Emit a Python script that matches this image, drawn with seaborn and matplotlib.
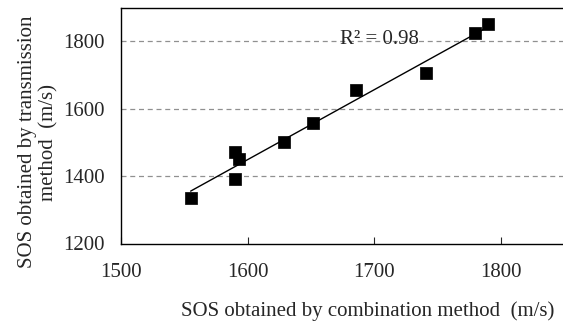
import numpy as np
import pandas as pd
import matplotlib
matplotlib.use("Agg")
import matplotlib.pyplot as plt
import seaborn as sns

# values
combination_sos = [1555, 1590, 1593, 1590, 1629, 1652, 1686, 1741, 1780, 1790]
transmission_sos = [1335, 1470, 1452, 1392, 1502, 1556, 1655, 1705, 1825, 1851]
r2_label = "R² = 0.98"

df = pd.DataFrame({"comb": combination_sos, "trans": transmission_sos})

sns.set_style("white")
plt.rcParams["font.family"] = ["Liberation Serif", "DejaVu Serif"]
plt.rcParams["font.size"] = 15

fig = plt.figure(figsize=(5.63, 3.28), dpi=100)
ax = fig.add_axes([121 / 563, 1 - 243.5 / 328, 443 / 563, 236 / 328])

# trend line
coef = np.polyfit(df["comb"], df["trans"], 1)
xs = np.array([df["comb"].min(), df["comb"].max()])
ax.plot(xs, np.polyval(coef, xs), color="black", lw=1, zorder=2)

sns.scatterplot(data=df, x="comb", y="trans", marker="s", s=80, color="black",
                edgecolor="black", linewidth=0.5, ax=ax, zorder=3)

ax.set_xlim(1500, 1850)
ax.set_ylim(1200, 1900)
ax.set_xticks([1500, 1600, 1700, 1800])
ax.set_yticks([1200, 1400, 1600, 1800])
for yv in [1400, 1600, 1800]:
    ax.axhline(yv, color="#909090", lw=0.9, ls=(0, (4, 3)), zorder=1)

ax.tick_params(axis="x", direction="in", length=5, width=0.8, pad=14, bottom=True)
ax.tick_params(axis="y", length=0, pad=12)
for side in ["left", "bottom", "top"]:
    ax.spines[side].set_color("black")
    ax.spines[side].set_linewidth(1.0)
ax.spines["right"].set_visible(False)

ax.set_xlabel("SOS obtained by combination method  (m/s)", fontsize=15)
ax.xaxis.set_label_coords(0.557, -0.245)
ax.set_ylabel("SOS obtained by transmission\nmethod  (m/s)", fontsize=15,
              linespacing=1.2)
ax.yaxis.set_label_coords(-0.14, 0.43)

ax.text(1704, 1805, r2_label, fontsize=15, ha="center", va="center", zorder=4)

fig.savefig("out.png", dpi=100)
